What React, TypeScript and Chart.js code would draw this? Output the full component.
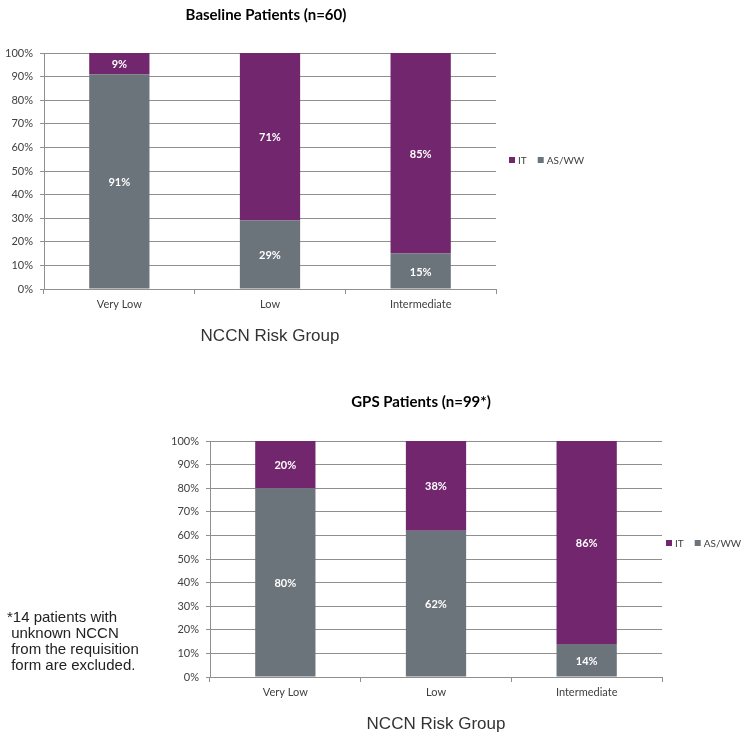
import React, { useEffect, useRef } from "react";
import { Chart, registerables } from "chart.js";
Chart.register(...registerables);

const categories = ["Very Low", "Low", "Intermediate"];
const seriesNames = ["AS/WW", "IT"];
const baselineAsww = [91, 29, 15];
const baselineIt = [9, 71, 85];
const gpsAsww = [80, 62, 14];
const gpsIt = [20, 38, 86];
const baselineTitle = "Baseline Patients (n=60)";
const gpsTitle = "GPS Patients (n=99*)";
const axisTitle = "NCCN Risk Group";
const footnote = "*14 patients with\n unknown NCCN\n from the requisition\n form are excluded.";

const PURPLE = "#71266E";
const GRAY = "#6B737B";
const GRID = "#8f8f8f";
const TICK_FONT = "Lato, 'Open Sans', sans-serif";

const decor = {
  id: "decor",
  afterDatasetsDraw(chart: any, _args: any, opts: any) {
    const ctx = chart.ctx;
    ctx.save();
    ctx.font = `bold 11px ${TICK_FONT}`;
    ctx.fillStyle = "#ffffff";
    ctx.textAlign = "center";
    ctx.textBaseline = "middle";
    chart.data.datasets.forEach((ds: any, i: number) => {
      const meta = chart.getDatasetMeta(i);
      meta.data.forEach((el: any, j: number) => {
        const p = el.getProps(["x", "y", "base"], true);
        ctx.fillText(ds.data[j] + "%", p.x, (p.y + p.base) / 2 + 1);
      });
    });
    // title
    ctx.fillStyle = "#000";
    ctx.font = `bold 15px ${TICK_FONT}`;
    ctx.fillText(opts.title, opts.titleX, opts.titleY);
    // legend (IT first, then AS/WW)
    ctx.font = `10px ${TICK_FONT}`;
    ctx.textAlign = "left";
    let x = opts.legendX;
    const y = opts.legendY;
    [1, 0].forEach((idx) => {
      const ds = chart.data.datasets[idx];
      ctx.fillStyle = ds.backgroundColor;
      ctx.fillRect(x, y - 3, 6, 6);
      ctx.fillStyle = "#404040";
      ctx.fillText(ds.label, x + 9, y + 1);
      x += 9 + ctx.measureText(ds.label).width + 11;
    });
    ctx.restore();
  },
};

function makeConfig(p: any): any {
  return {
    type: "bar",
    data: {
      labels: categories,
      datasets: [
        { label: seriesNames[0], data: p.asww, backgroundColor: GRAY, categoryPercentage: 1, barPercentage: 0.4 },
        { label: seriesNames[1], data: p.it, backgroundColor: PURPLE, categoryPercentage: 1, barPercentage: 0.4 },
      ],
    },
    plugins: [decor],
    options: {
      animation: false,
      responsive: false,
      devicePixelRatio: 1,
      layout: { padding: { left: 0, top: p.top, right: p.right, bottom: p.bottom } },
      plugins: {
        legend: { display: false },
        title: { display: false },
        tooltip: { enabled: false },
        decor: { title: p.title, titleX: p.titleX, titleY: p.titleY, legendX: p.legendX, legendY: p.legendY },
      },
      scales: {
        x: {
          stacked: true,
          afterFit: (s: any) => { s.height = 58; },
          grid: { drawOnChartArea: false, drawTicks: true, tickLength: 5, color: GRID, offset: true },
          border: { display: true, color: GRID, width: 1 },
          ticks: { color: "#404040", font: { family: TICK_FONT, size: 11 }, padding: 4 },
          title: {
            display: true,
            text: axisTitle,
            color: "#333",
            font: { family: "'Liberation Sans', Arial, sans-serif", size: 17 },
            padding: 0,
          },
        },
        y: {
          stacked: true,
          min: 0,
          max: 100,
          afterFit: (s: any) => { s.width = p.yWidth; },
          grid: { color: GRID, lineWidth: 1, drawTicks: true, tickLength: 4 },
          border: { display: true, color: GRID, width: 1 },
          ticks: {
            stepSize: 10,
            padding: 7,
            color: "#404040",
            font: { family: TICK_FONT, size: 11 },
            callback: (v: any) => v + "%",
          },
        },
      },
    },
  };
}

function ChartCanvas({ cfg, left, top, width, height }: any) {
  const ref = useRef<HTMLCanvasElement>(null);
  useEffect(() => {
    const chart = new Chart(ref.current as HTMLCanvasElement, cfg);
    return () => chart.destroy();
  }, []);
  return (
    <canvas
      ref={ref}
      width={width}
      height={height}
      style={{ position: "absolute", left, top, width, height }}
    />
  );
}

export default function App() {
  const cfg1 = makeConfig({
    asww: baselineAsww, it: baselineIt, title: baselineTitle,
    titleX: 266, titleY: 15, legendX: 509, legendY: 160,
    top: 53, right: 252, bottom: 13, yWidth: 44,
  });
  const cfg2 = makeConfig({
    asww: gpsAsww, it: gpsIt, title: gpsTitle,
    titleX: 421, titleY: 22, legendX: 666, legendY: 163,
    top: 61, right: 86, bottom: 1, yWidth: 210,
  });
  return (
    <div style={{ position: "absolute", left: 0, top: 0, width: 748, height: 736, background: "#fff", overflow: "hidden" }}>
      <ChartCanvas cfg={cfg1} left={0} top={0} width={748} height={360} />
      <ChartCanvas cfg={cfg2} left={0} top={380} width={748} height={356} />
      <div
        style={{
          position: "absolute", left: 7, top: 609, whiteSpace: "pre",
          fontFamily: "'Liberation Sans', Arial, sans-serif", fontSize: 15, lineHeight: "16px", color: "#222",
        }}
      >
        {footnote}
      </div>
    </div>
  );
}
